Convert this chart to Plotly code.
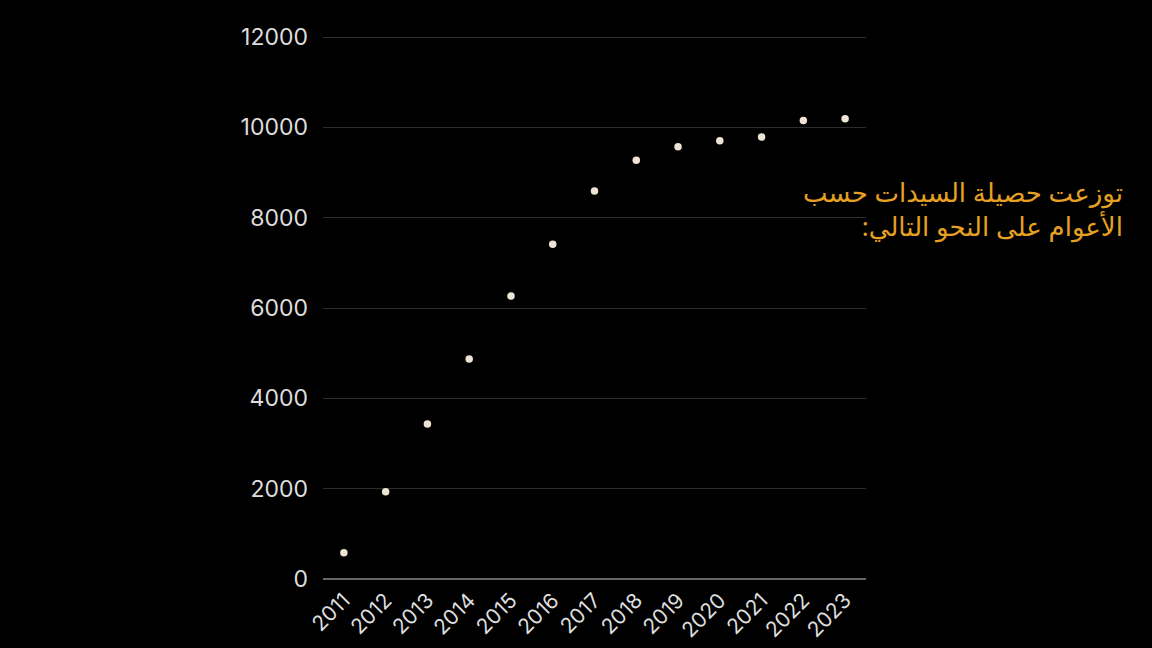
import plotly.graph_objects as go

years = ["2011", "2012", "2013", "2014", "2015", "2016", "2017", "2018", "2019", "2020", "2021", "2022", "2023"]
values = [580, 1930, 3430, 4870, 6265, 7415, 8590, 9275, 9570, 9705, 9785, 10155, 10190]
y_ticks = [0, 2000, 4000, 6000, 8000, 10000, 12000]
y_tick_labels = ["0", "2000", "4000", "6000", "8000", "10000", "12000"]
note_text = "توزعت حصيلة السيدات حسب<br>الأعوام على النحو التالي:\u200f"

fig = go.Figure()
fig.add_trace(go.Scatter(
    x=years, y=values, mode="markers",
    marker=dict(size=7.5, color="#EDE4D3"),
    hoverinfo="x+y", showlegend=False,
))

fig.update_layout(
    width=1152, height=648,
    paper_bgcolor="#000000", plot_bgcolor="#000000",
    margin=dict(l=323, r=286, t=33, b=69),
    font=dict(family="Inter, Lato, sans-serif", color="#DDDDDD", size=21),
    xaxis=dict(
        type="category", tickangle=-45, showgrid=False, showline=False,
        zeroline=False, ticks="", tickfont=dict(size=21, color="#DDDDDD"),
        ticklabelstandoff=4, automargin=False, range=[-0.5, 12.5],
    ),
    yaxis=dict(
        range=[0, 12090], tickvals=y_ticks, ticktext=y_tick_labels,
        showgrid=True, gridcolor="#2E2E2E",
        gridwidth=1, zeroline=True, zerolinecolor="#666666", zerolinewidth=1.5,
        ticks="", ticklabelstandoff=14, tickfont=dict(size=23, color="#DDDDDD"),
        automargin=False, showline=False,
    ),
    annotations=[dict(
        text=note_text, xref="paper", yref="paper",
        x=1.0 + (1126 - 866) / 546, y=1 - (172 - 33) / 546,
        xanchor="right", yanchor="top", align="right", showarrow=False,
        font=dict(family="Noto Sans, DejaVu Sans, sans-serif", size=26, color="#E6A022"),
    )],
)

fig.write_html(
    "out.html",
    config={"displayModeBar": False},
    post_script="document.body.style.margin='0';document.body.style.background='#000';",
)
